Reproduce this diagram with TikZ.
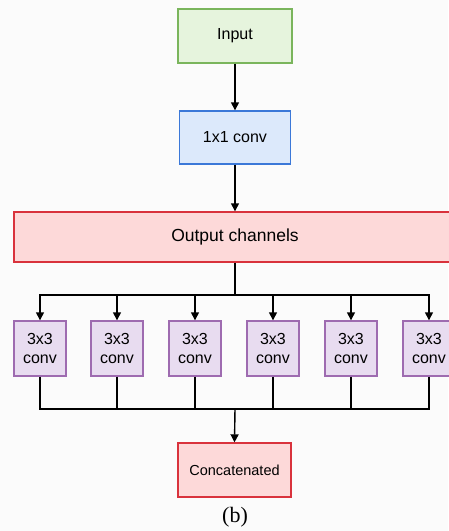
\documentclass[tikz,border=0pt]{standalone}
\usepackage{fontspec}
\setmainfont{Liberation Sans}
\newfontfamily\capfont{Liberation Serif}
\usetikzlibrary{arrows.meta}
\definecolor{gfill}{HTML}{E6F4DD}
\definecolor{gdraw}{HTML}{7AB55C}
\definecolor{bfill}{HTML}{DCE9FB}
\definecolor{bdraw}{HTML}{3B78D8}
\definecolor{rfill}{HTML}{FDD9D9}
\definecolor{rdraw}{HTML}{D9323C}
\definecolor{pfill}{HTML}{E8DCF0}
\definecolor{pdraw}{HTML}{9E6BB0}
\definecolor{bgc}{HTML}{FBFBFB}
\tikzset{
  box/.style={rectangle, line width=1.4pt, inner sep=0pt, align=center,
    font=\fontsize{16}{19}\selectfont},
  greenbox/.style={box, fill=gfill, draw=gdraw},
  bluebox/.style={box, fill=bfill, draw=bdraw},
  redbox/.style={box, fill=rfill, draw=rdraw},
  convbox/.style={box, fill=pfill, draw=pdraw, minimum width=52pt, minimum height=55pt},
  arr/.style={line width=1.4pt, -{Triangle[length=8pt,width=8pt]}},
  ln/.style={line width=1.4pt}
}
\begin{document}
\begin{tikzpicture}[x=1pt,y=-1pt]
\fill[bgc] (0,0) rectangle (448,531);
\useasboundingbox (0,0) rectangle (448,531);
\node[greenbox, minimum width=114pt, minimum height=54pt] (in) at (235,36) {Input};
\node[bluebox, minimum width=111pt, minimum height=53pt] (one) at (235,137.5) {1x1 conv};
\node[redbox, minimum width=442pt, minimum height=50pt, font=\fontsize{17.5}{20}\selectfont] (out) at (235,237) {Output channels};
\node[convbox] (c1) at (40,348.5) {3x3\\conv};
\node[convbox] (c2) at (117,348.5) {3x3\\conv};
\node[convbox] (c3) at (195,348.5) {3x3\\conv};
\node[convbox] (c4) at (273,348.5) {3x3\\conv};
\node[convbox] (c5) at (351,348.5) {3x3\\conv};
\node[convbox] (c6) at (429,348.5) {3x3\\conv};
\node[redbox, minimum width=113pt, minimum height=54pt, font=\fontsize{14.5}{17}\selectfont] (cat) at (234.5,470) {Concatenated};
\node[font=\capfont\fontsize{22}{24}\selectfont, inner sep=0pt] (cap) at (235,517) {(b)};
\coordinate (jt) at (235,295);
\coordinate (jb) at (235,409);
\draw[arr] (in.south) -- (one.north);
\draw[arr] (one.south) -- (out.north);
\draw[ln] (out.south) -- (jt);
\foreach \i in {1,...,6} {
  \draw[arr] (jt) -| (c\i.north);
  \draw[ln] (c\i.south) |- (jb);
}
\draw[arr] (jb) -- (cat.north);
\end{tikzpicture}
\end{document}
